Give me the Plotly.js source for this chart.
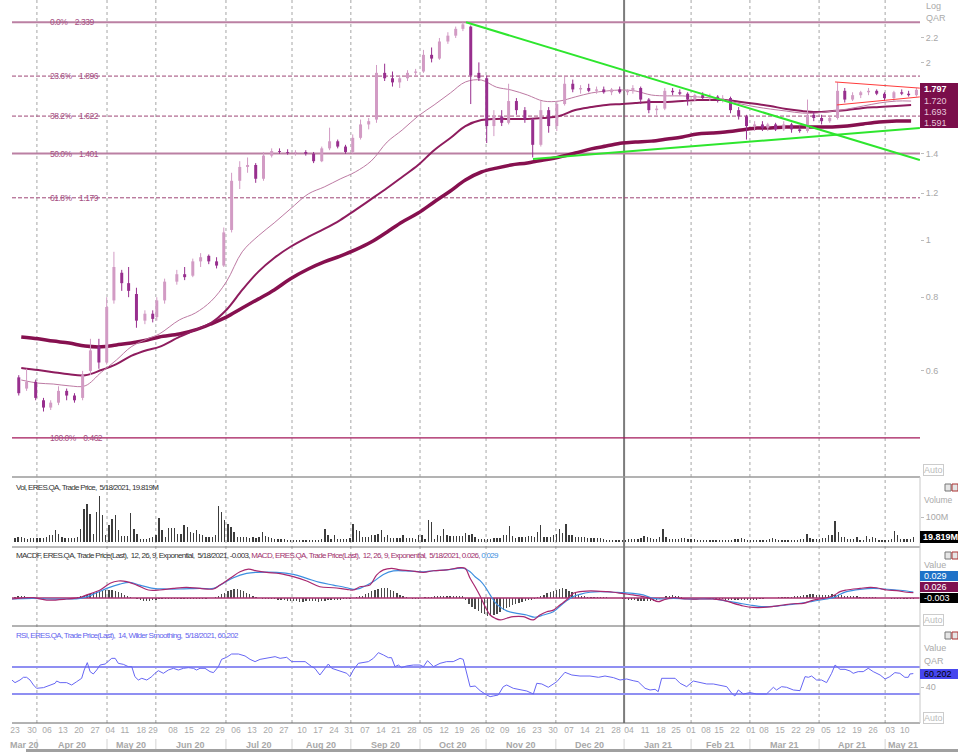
<!DOCTYPE html>
<html><head><meta charset="utf-8">
<script src="https://cdn.plot.ly/plotly-3.0.1.min.js"></script>
<style>html,body{margin:0;padding:0;background:#fff}#chart{width:958px;height:752px}</style>
</head><body><div id="chart"></div>
<script>
// ---------- x axis: weekly tick labels, in trading-day units ----------
const weekTickDay = [0,5.4,10.2,15.3,20.4,25.6,30.4,35.1,40.3,44.1,50.5,55.6,60.7,65.5,70.6,75.7,80.8,85.9,91.7,96.8,101.9,106.7,111.8,116.9,121.7,126.8,131.9,137.1,141.9,147.0,151.8,156.5,161.7,166.8,171.9,177.0,182.1,186.9,192.0,196.2,201.3,206.4,211.2,216.0,220.8,224.9,230.0,235.1,239.3,244.4,249.5,254.0,259.1,263.9,269.0,274.1,279.6,284.3];
const weekTickLabel = ["23","30","06","13","20","27","04","11","18","29","08","15","22","29","06","13","20","27","10","17","24","31","07","14","21","28","05","12","19","26","02","09","16","23","30","07","14","21","28","04","11","18","25","01","08","15","22","01","08","15","22","29","05","12","19","26","03","10"];
const monthLabel = ["Mar 20","Apr 20","May 20","Jun 20","Jul 20","Aug 20","Sep 20","Oct 20","Nov 20","Dec 20","Jan 21","Feb 21","Mar 21","Apr 21","May 21"];
const monthStartDay = [7.0,29.4,45.0,67.4,88.5,107.3,129.4,150.5,172.8,194.6,216.0,234.8,256.9,278.0];

// ---------- half-week OHLC candles (QAR), two per labelled week ----------
const cOpen = [.585,.56, .575,.535, .52,.53, .555,.545, .54,.60, .66,.62, .79,.88, .845,.81, .73,.75, .74,.79,
  .85,.875, .87,.92, .94,.92, .905,1.04, 1.26,1.33, 1.34,1.27, 1.39,1.415, 1.41,1.405, 1.41,1.40, 1.36,1.43,
  1.47,1.44, 1.41,1.49, 1.57,1.60, 1.92,1.88, 1.85,1.88, 1.92,1.93, 2.06,2.03, 2.17,2.22, 2.28,2.30, 1.92,1.88,
  1.56,1.62, 1.58,1.72, 1.66,1.60, 1.45,1.66, 1.56,1.70, 1.84,1.80, 1.81,1.79, 1.80,1.78, 1.80,1.78, 1.79,1.81,
  1.73,1.66, 1.67,1.79, 1.78,1.77, 1.73,1.76, 1.74,1.75, 1.73,1.74, 1.66,1.62, 1.56,1.57, 1.55,1.57, 1.54,1.57,
  1.54,1.53, 1.63,1.61, 1.59,1.61, 1.79,1.73, 1.76,1.78, 1.79,1.77, 1.74,1.78, 1.77,1.76];
const cHigh = [.59,.605, .58,.54, .535,.565, .56,.55, .60,.68, .68,.80, .955,.89, .90,.83, .76,.76, .80,.86,
  .89,.90, .93,.95, .945,.935, 1.05,1.30, 1.36,1.38, 1.35,1.41, 1.43,1.43, 1.425,1.42, 1.42,1.41, 1.44,1.55,
  1.48,1.45, 1.51,1.60, 1.61,1.98, 1.99,1.93, 1.90,1.94, 1.95,2.10, 2.12,2.20, 2.25,2.30, 2.339,2.31, 2.00,1.90,
  1.66,1.66, 1.84,1.74, 1.68,1.61, 1.72,1.68, 1.72,1.89, 1.87,1.83, 1.84,1.82, 1.82,1.81, 1.82,1.80, 1.83,1.82,
  1.74,1.69, 1.81,1.81, 1.80,1.78, 1.77,1.78, 1.77,1.76, 1.76,1.75, 1.68,1.63, 1.59,1.59, 1.58,1.58, 1.59,1.58,
  1.56,1.73, 1.65,1.63, 1.62,1.85, 1.81,1.78, 1.79,1.81, 1.80,1.78, 1.79,1.80, 1.79,1.81];
const cLow = [.545,.555, .535,.512, .515,.525, .535,.53, .535,.59, .605,.615, .78,.82, .80,.71, .72,.725, .73,.78,
  .84,.855, .865,.90, .91,.895, .90,1.03, 1.22,1.30, 1.25,1.26, 1.38,1.40, 1.395,1.39, 1.39,1.35, 1.355,1.42,
  1.43,1.40, 1.40,1.48, 1.54,1.58, 1.86,1.82, 1.81,1.86, 1.90,1.92, 2.00,2.02, 2.15,2.20, 2.26,1.70, 1.86,1.46,
  1.50,1.56, 1.57,1.63, 1.58,1.38, 1.44,1.52, 1.53,1.69, 1.78,1.77, 1.78,1.77, 1.77,1.76, 1.77,1.76, 1.77,1.70,
  1.64,1.63, 1.66,1.76, 1.76,1.69, 1.72,1.73, 1.72,1.71, 1.71,1.64, 1.60,1.48, 1.53,1.53, 1.53,1.53, 1.53,1.52,
  1.52,1.52, 1.59,1.57, 1.58,1.60, 1.71,1.72, 1.74,1.76, 1.76,1.72, 1.72,1.76, 1.75,1.75];
const cClose = [.55,.575, .54,.52, .53,.555, .545,.535, .59,.65, .62,.77, .90,.845, .82,.73, .75,.735, .79,.85,
  .875,.865, .92,.935, .92,.905, 1.03,1.26, 1.33,1.34, 1.27,1.39, 1.415,1.41, 1.405,1.41, 1.40,1.36, 1.43,1.47,
  1.44,1.41, 1.49,1.57, 1.59,1.92, 1.88,1.85, 1.88,1.92, 1.93,2.06, 2.03,2.17, 2.22,2.28, 2.32,1.90, 1.88,1.56,
  1.62,1.58, 1.72,1.66, 1.60,1.45, 1.66,1.56, 1.70,1.84, 1.80,1.81, 1.79,1.80, 1.78,1.80, 1.78,1.79, 1.81,1.73,
  1.66,1.67, 1.79,1.78, 1.77,1.73, 1.76,1.74, 1.75,1.73, 1.74,1.66, 1.62,1.56, 1.57,1.55, 1.57,1.54, 1.57,1.54,
  1.53,1.63, 1.61,1.59, 1.61,1.79, 1.73,1.76, 1.78,1.79, 1.77,1.74, 1.78,1.77, 1.76,1.797];

// ---------- moving averages (weekly readings) ----------
const maFast = [0.579,0.572,0.570,0.566,0.566,0.597,0.626,0.659,0.680,0.693,0.732,0.752,0.788,0.849,0.955,1.016,1.069,1.128,1.197,1.230,1.269,1.304,1.361,1.466,1.536,1.622,1.694,1.775,1.853,1.867,1.816,1.796,1.761,1.720,1.720,1.748,1.775,1.789,1.796,1.789,1.761,1.755,1.755,1.748,1.741,1.727,1.700,1.680,1.667,1.654,1.641,1.641,1.654,1.667,1.687,1.707,1.720,1.720];
const maMid  = [0.607,0.602,0.597,0.592,0.590,0.602,0.616,0.636,0.651,0.659,0.685,0.704,0.724,0.761,0.823,0.883,0.932,0.973,1.012,1.044,1.081,1.124,1.173,1.225,1.279,1.340,1.420,1.489,1.560,1.597,1.604,1.604,1.604,1.610,1.622,1.661,1.680,1.694,1.700,1.707,1.714,1.714,1.720,1.727,1.727,1.727,1.714,1.700,1.687,1.667,1.654,1.648,1.654,1.661,1.674,1.680,1.687,1.693];
const maSlow = [0.685,0.680,0.674,0.669,0.661,0.659,0.664,0.669,0.677,0.685,0.693,0.704,0.721,0.740,0.767,0.794,0.823,0.859,0.893,0.918,0.939,0.962,0.992,1.032,1.073,1.111,1.160,1.211,1.264,1.304,1.324,1.340,1.351,1.366,1.383,1.404,1.427,1.443,1.460,1.466,1.471,1.483,1.495,1.513,1.518,1.524,1.536,1.548,1.548,1.554,1.554,1.554,1.554,1.560,1.573,1.585,1.591,1.591];

// ---------- Fibonacci retracement levels ----------
const fibPct   = ["0.0%","23.6%","38.2%","50.0%","61.8%","100.0%"];
const fibLevel = [2.339,1.896,1.622,1.401,1.179,0.462];

// ---------- drawn trend lines (day, price) ----------
const downTrendX = [144.1,289.1], downTrendY = [2.339,1.366];
const upTrendX   = [165.5,289.1], upTrendY   = [1.372,1.548];
const wedgeTopX  = [262.0,289.1], wedgeTopY  = [1.853,1.809];
const wedgeBotX  = [262.6,289.1], wedgeBotY  = [1.694,1.748];

// ---------- daily volume (millions) ----------
const volM = [18,22,22,16,13,15,15,17,17,18,20,29,29,47,33,20,18,18,18,18,20,53,133,153,113,33,120,183,109,27,67,93,109,47,24,24,24,117,53,33,13,13,13,15,20,27,96,47,20,57,57,57,33,33,67,60,40,35,47,33,29,20,20,22,27,144,120,87,73,60,40,20,20,22,20,16,20,18,20,40,24,22,15,13,13,13,13,10,7,7,7,7,7,7,7,7,7,7,13,53,27,13,29,13,13,13,13,15,73,47,43,20,20,20,27,29,33,47,20,27,16,16,16,16,29,16,16,16,13,27,27,13,87,80,13,27,23,53,27,24,24,24,24,24,37,29,33,20,13,13,13,13,13,16,16,16,27,27,64,24,16,20,20,20,24,24,20,40,67,20,20,20,29,33,53,37,73,29,27,20,20,20,20,16,16,16,16,16,13,7,7,7,7,7,7,7,13,13,13,13,16,23,20,16,13,13,20,53,20,13,13,13,13,16,16,13,13,13,7,7,7,7,7,7,7,7,7,7,7,7,13,13,16,13,9,9,9,9,9,9,9,13,17,13,7,7,7,7,7,7,7,13,13,33,16,13,13,13,16,16,27,29,84,40,20,20,13,13,13,20,7,7,24,13,21,16,7,7,7,7,13,43,27,13,11,11,13,19.819];

// ---------- MACD (12,26,9) ----------
const macdHist = [0.006,0.008,0.008,0.008,0.007,0.005,-0.002,-0.004,-0.004,-0.003,0.0,-0.001,0.0,0.001,0.0,0.0,-0.001,0.0,0.001,0.002,0.004,0.008,0.01,0.014,0.02,0.024,0.027,0.03,0.034,0.037,0.039,0.038,0.035,0.03,0.022,0.016,0.01,0.005,0.0,-0.006,-0.01,-0.013,-0.014,-0.013,-0.011,-0.008,-0.006,-0.005,-0.005,-0.004,-0.004,-0.005,-0.005,-0.004,-0.003,-0.003,-0.004,-0.004,-0.003,-0.003,-0.004,-0.003,-0.002,0.0,0.006,0.012,0.018,0.026,0.032,0.038,0.042,0.042,0.04,0.034,0.026,0.018,0.01,0.004,-0.002,-0.003,-0.004,-0.004,-0.005,-0.006,-0.008,-0.01,-0.012,-0.014,-0.015,-0.016,-0.017,-0.018,-0.018,-0.017,-0.016,-0.016,-0.017,-0.018,-0.016,-0.014,-0.012,-0.011,-0.01,-0.009,-0.008,-0.007,-0.006,-0.004,-0.001,0.004,0.008,0.012,0.018,0.025,0.032,0.04,0.046,0.05,0.05,0.047,0.04,0.032,0.024,0.016,0.01,0.005,0.0,-0.003,-0.004,-0.003,-0.001,0.003,0.005,0.006,0.008,0.008,0.009,0.009,0.01,0.01,0.01,0.011,0.01,0.008,-0.01,-0.03,-0.045,-0.055,-0.065,-0.072,-0.08,-0.088,-0.09,-0.085,-0.078,-0.07,-0.06,-0.05,-0.042,-0.036,-0.03,-0.025,-0.02,-0.016,-0.012,-0.008,-0.004,0.004,0.01,0.016,0.022,0.028,0.034,0.04,0.045,0.047,0.042,0.035,0.028,0.022,0.016,0.01,0.008,0.007,0.006,0.006,0.005,0.005,0.004,0.003,0.002,0.001,0.0,-0.002,-0.004,-0.006,-0.008,-0.01,-0.012,-0.014,-0.015,-0.016,-0.016,-0.015,-0.013,-0.01,-0.005,0.002,0.008,0.012,0.013,0.012,0.008,0.004,0.0,-0.001,-0.002,-0.002,-0.002,-0.001,-0.002,-0.002,-0.003,-0.004,-0.005,-0.006,-0.007,-0.008,-0.009,-0.01,-0.011,-0.012,-0.012,-0.012,-0.011,-0.01,-0.009,-0.008,-0.006,-0.004,-0.002,0.0,0.001,0.002,0.003,0.004,0.005,0.006,0.007,0.008,0.01,0.012,0.014,0.016,0.018,0.018,0.017,0.016,0.015,0.016,0.017,0.018,0.017,0.015,0.013,0.012,0.011,0.01,0.009,0.008,0.007,0.006,0.006,0.005,0.004,0.003,0.002,0.001,-0.001,-0.002,-0.003,-0.003,-0.004,-0.004,-0.003,-0.003,-0.003,-0.003];
const macdDay = [-1.0,5.9,10.1,16.5,20.8,22.9,27.2,30.4,33.0,35.7,38.9,42.6,46.3,50.6,54.8,59.1,63.4,65.5,68.7,71.9,74.6,77.2,80.4,84.7,88.9,93.2,97.4,101.7,106.0,108.1,110.2,113.4,115.5,117.7,120.3,123.0,126.2,130.5,133.7,137.9,142.2,143.8,145.4,147.0,148.6,150.2,151.8,153.4,155.0,157.1,159.2,162.4,165.6,167.7,169.9,172.0,174.1,176.2,178.4,180.5,182.6,185.8,189.0,191.2,194.4,197.5,200.7,202.9,205.5,207.1,210.3,212.5,215.7,218.8,223.1,226.3,229.5,232.7,235.9,239.1,242.3,245.5,248.7,251.9,255.1,258.3,261.4,263.6,265.7,270.0,273.2,275.3,278.5,281.7,284.9,287.0];
const macdVal = [-0.005,0.002,-0.010,-0.005,0.003,0.015,0.039,0.072,0.083,0.080,0.063,0.039,0.039,0.047,0.052,0.047,0.044,0.063,0.096,0.128,0.141,0.132,0.125,0.119,0.104,0.083,0.055,0.050,0.042,0.039,0.055,0.063,0.112,0.137,0.145,0.137,0.133,0.125,0.133,0.137,0.148,0.145,0.096,0.055,0.010,-0.042,-0.083,-0.099,-0.107,-0.099,-0.091,-0.091,-0.107,-0.083,-0.067,-0.059,-0.034,-0.010,0.023,0.031,0.034,0.034,0.031,0.028,0.021,0.015,0.007,-0.002,-0.018,-0.010,0.002,-0.002,-0.005,-0.005,-0.005,-0.010,-0.026,-0.039,-0.046,-0.046,-0.041,-0.034,-0.028,-0.026,-0.010,-0.002,0.011,0.031,0.039,0.047,0.052,0.050,0.039,0.036,0.028,0.026];
const signalDay = [-1.0,5.9,10.1,16.5,20.8,25.0,29.3,33.5,36.7,39.9,44.2,48.5,52.7,59.1,63.4,66.6,69.8,74.0,77.2,83.6,88.9,93.2,97.4,101.7,106.0,108.1,110.2,114.5,117.7,120.9,125.1,130.5,133.7,137.9,143.2,145.4,147.0,148.6,150.2,151.8,153.9,157.1,160.3,163.5,166.1,168.8,172.0,175.2,178.4,180.5,183.7,186.9,191.2,194.4,197.5,200.7,203.9,207.1,210.3,214.6,218.8,223.1,227.4,231.6,234.8,239.1,242.3,246.5,250.8,255.1,259.3,261.4,263.6,265.7,270.0,274.2,277.4,281.7,284.9,287.0];
const signalVal = [-0.005,-0.002,-0.005,-0.005,-0.002,0.018,0.047,0.068,0.076,0.063,0.047,0.044,0.044,0.047,0.047,0.072,0.099,0.120,0.125,0.125,0.115,0.096,0.076,0.063,0.050,0.042,0.047,0.080,0.115,0.132,0.132,0.128,0.133,0.137,0.145,0.128,0.104,0.085,0.055,0.015,-0.030,-0.063,-0.075,-0.083,-0.094,-0.083,-0.067,-0.026,0.007,0.018,0.028,0.031,0.028,0.026,0.023,0.015,-0.002,-0.005,-0.002,-0.005,-0.005,-0.005,-0.015,-0.026,-0.034,-0.042,-0.041,-0.034,-0.026,-0.015,-0.005,0.002,0.018,0.031,0.042,0.047,0.044,0.039,0.034,0.029];

// ---------- RSI (14, Wilder) ----------
const rsiDay = [-1.0,0,1.6,2.7,3.7,4.8,5.9,6.9,9.1,11.2,12.8,13.3,14.4,16.5,18.1,19.7,21.3,22.1,23.1,24.0,25.0,26.1,27.2,28.8,29.8,30.9,32.0,33.0,34.6,36.2,37.3,38.3,39.4,40.5,42.1,43.7,44.7,45.8,47.4,49.0,50.6,52.2,53.8,55.4,57.0,58.0,59.1,60.7,62.3,63.4,65.0,66.0,67.6,69.2,71.4,73.5,75.1,76.7,78.3,79.9,81.5,83.1,84.7,86.8,88.4,90.0,92.7,94.8,95.8,97.4,99.0,100.1,101.2,102.8,104.4,106.0,107.0,108.1,109.7,111.3,112.9,114.5,116.1,117.7,119.3,120.3,121.4,122.5,123.5,125.1,127.3,129.4,130.5,131.8,133.7,135.8,137.9,140.0,142.2,143.2,144.1,145.4,147.0,148.6,150.7,151.8,152.8,154.4,156.0,157.1,159.2,161.3,163.5,165.6,166.7,168.3,170.4,173.1,175.7,177.9,180.5,183.7,186.4,188.5,191.2,193.3,195.4,197.5,199.1,201.3,202.9,204.5,205.5,206.6,208.7,209.8,210.9,212.5,214.6,216.7,218.8,221.0,223.1,225.2,227.4,229.0,230.0,231.1,232.7,234.8,236.9,240.1,241.2,242.3,243.3,244.9,246.5,248.7,250.8,252.4,253.5,254.5,256.1,257.7,259.3,260.9,262.0,263.6,265.2,266.8,267.8,269.4,271.0,272.6,274.2,276.4,278.0,279.5,281.1,282.7,284.3,285.4,285.9,287.0];
const rsiVal = [50.7,46.8,50.7,54.7,54.7,50.7,43.3,38.4,39.4,43.3,45.8,49.2,46.8,46.8,43.3,48.2,53.2,65.5,76.4,63.1,59.6,65.5,72.9,74.4,77.9,82.8,82.8,75.4,73.9,70.5,70.5,55.7,50.7,53.2,50.7,55.7,60.6,64.5,60.6,65.5,68.0,65.5,68.0,69.0,68.0,65.5,68.0,68.0,63.1,61.6,70.5,81.3,84.3,89.2,89.2,86.3,81.3,77.9,81.3,82.8,84.3,85.3,82.8,84.3,77.9,77.9,77.9,70.5,68.0,58.1,68.0,74.4,68.0,65.5,63.1,60.6,55.7,65.5,75.4,76.4,77.9,82.8,91.2,87.8,83.8,83.8,70.5,72.9,69.0,71.5,72.9,72.9,70.5,79.4,70.5,75.4,77.9,77.9,82.8,81.3,65.5,40.8,41.8,34.9,28.5,26.0,27.0,28.5,40.8,43.3,38.4,35.9,34.4,30.0,45.8,44.8,39.9,48.2,62.1,58.1,56.6,56.6,54.7,56.6,54.2,50.7,52.2,49.7,48.2,38.4,35.9,36.9,33.4,53.2,53.2,54.2,53.2,45.8,40.8,49.2,46.8,44.8,44.8,43.3,40.8,31.0,27.0,35.9,30.0,32.0,30.0,30.0,34.9,39.9,35.9,40.8,39.9,35.9,34.9,55.7,54.7,56.6,50.7,50.7,46.8,60.6,72.9,66.5,66.5,64.0,60.6,63.1,63.1,68.0,63.1,58.1,52.2,55.7,61.6,60.6,54.7,54.7,59.6,60.202];
const rsiLevels = [70,30];

// ================= drawing =================
const X_MIN = -0.96, X_MAX = 289.14;
const W = 958, H = 752;
const fx = p => p / W, fy = p => 1 - p / H;
const FONT = "Liberation Sans, Arial, sans-serif";

const weekX = weekTickDay.map(d => d + 2);
const candleX = [];
weekTickDay.forEach(d => { candleX.push(d + 1.2, d + 3.7); });
const dayIdx = volM.map((_, i) => i);

const traces = [];
fibLevel.forEach((lv, i) => {
  const solid = (i === 0 || i === 3);
  const last = (i === fibLevel.length - 1);
  traces.push({x:[X_MIN, X_MAX], y:[lv, lv], xaxis:'x', yaxis:'y', mode:'lines', hoverinfo:'skip',
    line: last ? {color:'#a3175a', width:1.3} : solid ? {color:'#bb80a3', width:2} : {color:'#9e4576', width:1, dash:'4px,2px'}});
});
traces.push({x:weekX, y:maSlow, xaxis:'x', yaxis:'y', mode:'lines', line:{color:'#86104f', width:3.5, shape:'spline'}, hoverinfo:'skip'});
traces.push({x:weekX, y:maMid, xaxis:'x', yaxis:'y', mode:'lines', line:{color:'#8e1c5e', width:2, shape:'spline'}, hoverinfo:'skip'});
traces.push({x:weekX, y:maFast, xaxis:'x', yaxis:'y', mode:'lines', line:{color:'#bd7aa3', width:1, shape:'spline'}, hoverinfo:'skip'});
const up = {wx:[],wy:[],bx:[],by:[]}, dn = {wx:[],wy:[],bx:[],by:[]};
for (let i = 0; i < cOpen.length; i++) {
  const g = cClose[i] >= cOpen[i] ? up : dn;
  g.wx.push(candleX[i], candleX[i], null); g.wy.push(cLow[i], cHigh[i], null);
  g.bx.push(candleX[i], candleX[i], null); g.by.push(cOpen[i], cClose[i], null);
}
[[up,'#d29bc4'],[dn,'#982f8e']].forEach(([g,c]) => {
  traces.push({x:g.wx, y:g.wy, xaxis:'x', yaxis:'y', mode:'lines', line:{color:c, width:1}, hoverinfo:'skip', connectgaps:false});
  traces.push({x:g.bx, y:g.by, xaxis:'x', yaxis:'y', mode:'lines', line:{color:c, width:3}, hoverinfo:'skip', connectgaps:false});
});
traces.push({x:downTrendX, y:downTrendY, xaxis:'x', yaxis:'y', mode:'lines', line:{color:'#2ee62e', width:2}, hoverinfo:'skip'});
traces.push({x:upTrendX, y:upTrendY, xaxis:'x', yaxis:'y', mode:'lines', line:{color:'#2ee62e', width:2}, hoverinfo:'skip'});
traces.push({x:wedgeTopX, y:wedgeTopY, xaxis:'x', yaxis:'y', mode:'lines', line:{color:'#ff3b3b', width:1}, hoverinfo:'skip'});
traces.push({x:wedgeBotX, y:wedgeBotY, xaxis:'x', yaxis:'y', mode:'lines', line:{color:'#ff3b3b', width:1}, hoverinfo:'skip'});
traces.push({type:'bar', x:dayIdx, y:volM, xaxis:'x', yaxis:'y2', width:0.42, marker:{color:'#3c3c3c', line:{width:0}}, hoverinfo:'skip'});
traces.push({type:'bar', x:dayIdx, y:macdHist, xaxis:'x', yaxis:'y3', width:0.42, marker:{color:'#4a4a4a', line:{width:0}}, hoverinfo:'skip'});
traces.push({x:[X_MIN, X_MAX], y:[0,0], xaxis:'x', yaxis:'y3', mode:'lines', line:{color:'#a8306f', width:1.5}, hoverinfo:'skip'});
traces.push({x:signalDay, y:signalVal, xaxis:'x', yaxis:'y3', mode:'lines', line:{color:'#3d8fe0', width:1.2, shape:'spline'}, hoverinfo:'skip'});
traces.push({x:macdDay, y:macdVal, xaxis:'x', yaxis:'y3', mode:'lines', line:{color:'#a8286f', width:1.2, shape:'spline'}, hoverinfo:'skip'});
rsiLevels.forEach(l => traces.push({x:[X_MIN, X_MAX], y:[l,l], xaxis:'x', yaxis:'y4', mode:'lines', line:{color:'#8f8ff2', width:2}, hoverinfo:'skip'}));
traces.push({x:rsiDay, y:rsiVal, xaxis:'x', yaxis:'y4', mode:'lines', line:{color:'#6666f4', width:1}, hoverinfo:'skip'});

// ---------- shapes ----------
const shapes = [];
monthStartDay.forEach((d, i) => {
  const isYear = monthLabel[i+1] === 'Jan 21';
  shapes.push({type:'line', xref:'x', yref:'paper', x0:d, x1:d, y0:fy(723), y1:1,
    line: isYear ? {color:'#7c7c7c', width:2} : {color:'#a6a6a6', width:1, dash:'dot'}, layer:'below'});
  shapes.push({type:'line', xref:'x', yref:'paper', x0:d, x1:d, y0:fy(739), y1:fy(751), line:{color:'#d4d4d4', width:1}});
});
[[477,'#9a9a9a',1.5],[547,'#777',1],[626,'#666',1],[723,'#666',1]].forEach(([p,c,w]) =>
  shapes.push({type:'line', xref:'paper', yref:'paper', x0:fx(12), x1:fx(920), y0:fy(p), y1:fy(p), line:{color:c, width:w}}));
shapes.push({type:'line', xref:'paper', yref:'paper', x0:fx(920), x1:fx(920), y0:fy(723), y1:fy(477), line:{color:'#c8c8c8', width:1}});
shapes.push({type:'rect', xref:'paper', yref:'paper', x0:fx(26), x1:fx(958), y0:fy(752), y1:fy(749), line:{width:0}, fillcolor:'#a0a0a0'});
const box = (y0, y1, c) => shapes.push({type:'rect', xref:'paper', yref:'paper', x0:fx(920), x1:fx(958), y0:fy(y1), y1:fy(y0), line:{width:0}, fillcolor:c});
box(83, 128, '#7a0e4a');
box(531, 543, '#000000');
box(571, 581, '#1f72c8');
box(582, 592, '#7e1050');
box(593, 603, '#000000');
box(669, 679, '#4646ee');
[484, 552, 632].forEach(p => {
  shapes.push({type:'rect', xref:'paper', yref:'paper', x0:fx(945), x1:fx(951), y0:fy(p+7), y1:fy(p), line:{color:'#777', width:1}, fillcolor:'#e6e6e6'});
  shapes.push({type:'rect', xref:'paper', yref:'paper', x0:fx(952), x1:fx(958), y0:fy(p+7), y1:fy(p), line:{color:'#a33', width:1}, fillcolor:'#e6e6e6'});
});

// ---------- annotations ----------
const ann = [];
const txt = (x, y, t, o) => ann.push(Object.assign({xref:'paper', yref:'paper', x:fx(x), y:fy(y), text:t, showarrow:false,
  xanchor:'left', yanchor:'middle', align:'left', font:{family:FONT, size:9, color:'#aaaaaa'}}, o || {}));
fibLevel.forEach((lv, i) => {
  ann.push({xref:'paper', yref:'y', x:fx(48), y:Math.log10(lv), text:fibPct[i] + '\u2002\u2002' + lv.toFixed(3), showarrow:false,
    xanchor:'left', yanchor:'middle', align:'left', font:{family:FONT, size:8.5, color:'#a65083'}});
});
monthLabel.forEach((m, i) => {
  const a = i === 0 ? X_MIN : monthStartDay[i-1];
  const b = i === monthLabel.length - 1 ? X_MAX : monthStartDay[i];
  ann.push({xref:'x', yref:'paper', x:(a+b)/2, y:fy(745), text:'<b>'+m+'</b>', showarrow:false, xanchor:'center', yanchor:'middle',
    font:{family:FONT, size:9, color:'#a8a8a8'}});
});
txt(924, 6, 'Log'); txt(924, 18, 'QAR');
txt(922, 89, '<b>1.797</b>', {font:{family:FONT, size:9, color:'#ffffff'}});
txt(922, 101, '1.720', {font:{family:FONT, size:9, color:'#e6c6da'}});
txt(922, 112, '1.693', {font:{family:FONT, size:9, color:'#e6c6da'}});
txt(922, 123, '1.591', {font:{family:FONT, size:9, color:'#e6c6da'}});
txt(923, 470, 'Auto', {bordercolor:'#cccccc', borderwidth:1, borderpad:0, font:{family:FONT, size:9, color:'#bbbbbb'}});
txt(922, 500, 'Volume', {font:{family:FONT, size:8.5, color:'#aaaaaa'}});
txt(921, 537, '<b>19.819M</b>', {font:{family:FONT, size:9, color:'#ffffff'}});
txt(922, 565, 'Value');
txt(922, 576, '0.029', {font:{family:FONT, size:9, color:'#ffffff'}});
txt(922, 587, '0.026', {font:{family:FONT, size:9, color:'#ffffff'}});
txt(922, 598, '-0.003', {font:{family:FONT, size:9, color:'#ffffff'}});
txt(923, 620, 'Auto', {bordercolor:'#cccccc', borderwidth:1, borderpad:0, font:{family:FONT, size:9, color:'#bbbbbb'}});
txt(922, 648, 'Value'); txt(922, 661, 'QAR');
txt(922, 674, '60.202', {font:{family:FONT, size:9, color:'#000000'}});
txt(923, 718, 'Auto', {bordercolor:'#cccccc', borderwidth:1, borderpad:0, font:{family:FONT, size:9, color:'#bbbbbb'}});
txt(14, 487, 'Vol, ERES.QA, Trade Price,  5/18/2021, 19.819M', {font:{family:FONT, size:8, color:'#333'}});
txt(14, 555, 'MACDF, ERES.QA, Trade Price(Last),  12, 26, 9, Exponential,  5/18/2021, -0.003, ' +
  '<span style="color:#a0306e">MACD, ERES.QA, Trade Price(Last),  12, 26, 9, Exponential,  5/18/2021, 0.026, </span>' +
  '<span style="color:#3d8fe0">0.029</span>', {font:{family:FONT, size:8, color:'#333'}});
txt(14, 635, 'RSI, ERES.QA, Trade Price(Last),  14, Wilder Smoothing,  5/18/2021, 60.202', {font:{family:FONT, size:8, color:'#6464ee'}});

const axRight = (extra) => Object.assign({side:'right', anchor:'x', showgrid:false, zeroline:false, showline:false,
  ticks:'outside', ticklen:3, tickcolor:'#bdbdbd', tickfont:{family:FONT, size:9, color:'#a8a8a8'}, fixedrange:true}, extra);

const layout = {
  width:W, height:H, margin:{l:0, r:0, t:0, b:0}, paper_bgcolor:'#ffffff', plot_bgcolor:'rgba(0,0,0,0)',
  showlegend:false, bargap:0, font:{family:FONT},
  xaxis:{domain:[fx(12), fx(920)], range:[X_MIN, X_MAX], anchor:'y4', showgrid:false, zeroline:false, showline:false,
    tickmode:'array', tickvals:weekTickDay, ticktext:weekTickLabel, tickangle:0, ticks:'', tickfont:{family:FONT, size:8.5, color:'#a8a8a8'}, fixedrange:true},
  yaxis: axRight({domain:[fy(477), 1], type:'log', range:[-0.4017, 0.4068], tickmode:'array',
    tickvals:[0.6,0.8,1,1.2,1.4,2,2.2], ticktext:['0.6','0.8','1','1.2','1.4','2','2.2']}),
  yaxis2: axRight({domain:[fy(547), fy(477)], range:[-20, 260], tickmode:'array', tickvals:[100], ticktext:['100M']}),
  yaxis3: axRight({domain:[fy(626), fy(547)], range:[-0.1366, 0.2488], showticklabels:false, ticks:''}),
  yaxis4: axRight({domain:[fy(723), fy(626)], range:[-13, 130.7], tickmode:'array', tickvals:[40], ticktext:['40']}),
  shapes:shapes, annotations:ann
};
Plotly.newPlot('chart', traces, layout, {staticPlot:true, displayModeBar:false}).then(gd => {
  gd.querySelectorAll('.annotation-text').forEach(t => {
    const s = t.textContent;
    if (/^(Vol,|MACDF|RSI,)/.test(s)) t.style.letterSpacing = '-0.7px';
    else if (/%/.test(s)) t.style.letterSpacing = '-0.5px';
  });
});
</script>
</body></html>
